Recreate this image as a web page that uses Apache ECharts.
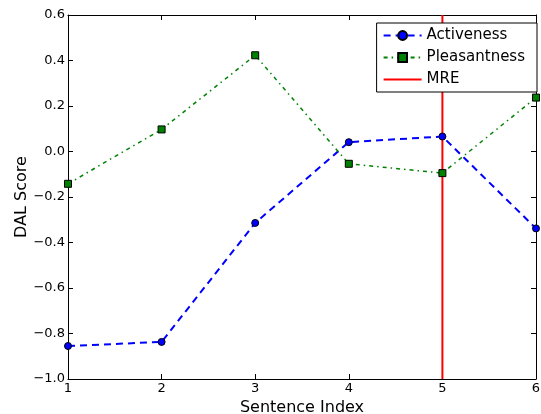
<!DOCTYPE html>
<html>
<head>
<meta charset="utf-8">
<script src="https://cdn.jsdelivr.net/npm/echarts@6/dist/echarts.min.js"></script>
<style>
  html, body { margin: 0; padding: 0; background: #fff; overflow: hidden; }
  #chart { width: 541px; height: 414px; }
</style>
</head>
<body>
<div id="chart"></div>
<script>
// sentence indices and DAL scores
const sentenceIdx = [1, 2, 3, 4, 5, 6];
const activeness = [-0.855, -0.837, -0.314, 0.041, 0.066, -0.338];
const pleasantness = [-0.142, 0.097, 0.423, -0.054, -0.095, 0.237];
const mreIndex = 5;
const yRange = [-1.0, 0.6];

const font = 'DejaVu Sans';

function pairs(xs, ys) {
  return xs.map((x, i) => [x, ys[i]]);
}

const chart = echarts.init(document.getElementById('chart'), null, { renderer: 'canvas' });

const tickStyle = { inside: true, length: 5, lineStyle: { color: '#000', width: 1 } };

const option = {
  backgroundColor: '#fff',
  animation: false,
  textStyle: { fontFamily: font },
  grid: { left: 68, right: 5, top: 15, bottom: 35, containLabel: false, outerBoundsMode: 'none' },
  legend: {
    right: 4, top: 23,
    orient: 'vertical',
    align: 'left',
    padding: [5, 12, 5, 6],
    itemGap: 7,
    itemWidth: 38, itemHeight: 11,
    borderColor: '#000', borderWidth: 1, borderRadius: 0,
    backgroundColor: '#fff',
    textStyle: { fontFamily: font, fontSize: 15, color: '#000' },
    data: ['Activeness', 'Pleasantness', { name: 'MRE', itemStyle: { opacity: 0 } }]
  },
  xAxis: [{
    type: 'value', min: 1, max: 6, interval: 1,
    name: 'Sentence Index', nameLocation: 'middle', nameGap: 21,
    nameTextStyle: { fontFamily: font, fontSize: 16, color: '#000' },
    axisLine: { onZero: false, lineStyle: { color: '#000', width: 1 } },
    axisTick: tickStyle,
    axisLabel: { color: '#000', fontSize: 13, margin: 3, fontFamily: font },
    splitLine: { show: false }
  }, {
    type: 'value', min: 1, max: 6, interval: 1, position: 'top',
    axisLine: { onZero: false, lineStyle: { color: '#000', width: 1 } },
    axisTick: tickStyle,
    axisLabel: { show: false },
    splitLine: { show: false }
  }],
  yAxis: [{
    type: 'value', min: yRange[0], max: yRange[1], interval: 0.2,
    name: 'DAL Score', nameLocation: 'middle', nameGap: 38, nameRotate: 90,
    nameMoveOverlap: false,
    nameTextStyle: { fontFamily: font, fontSize: 16, color: '#000' },
    axisLine: { onZero: false, lineStyle: { color: '#000', width: 1 } },
    axisTick: tickStyle,
    axisLabel: {
      color: '#000', fontSize: 13, margin: 3, fontFamily: font,
      formatter: v => v.toFixed(1).replace('-', '\u2212')
    },
    splitLine: { show: false }
  }, {
    type: 'value', min: yRange[0], max: yRange[1], interval: 0.2, position: 'right',
    axisLine: { onZero: false, lineStyle: { color: '#000', width: 1 } },
    axisTick: tickStyle,
    axisLabel: { show: false },
    splitLine: { show: false }
  }],
  series: [{
    name: 'Activeness',
    type: 'line',
    data: pairs(sentenceIdx, activeness),
    symbol: 'circle', symbolSize: 7,
    itemStyle: { color: '#0000ff', borderColor: '#000', borderWidth: 1 },
    lineStyle: { color: '#0000ff', width: 2, type: [7, 5] },
    z: 3
  }, {
    name: 'Pleasantness',
    type: 'line',
    data: pairs(sentenceIdx, pleasantness),
    symbol: 'rect', symbolSize: 7,
    itemStyle: { color: '#008000', borderColor: '#000', borderWidth: 1 },
    lineStyle: { color: '#008000', width: 1.5, type: [4, 4, 1.5, 4] },
    z: 3
  }, {
    name: 'MRE',
    type: 'line',
    data: pairs([mreIndex, mreIndex], yRange),
    symbol: 'none',
    itemStyle: { color: '#ff0000' },
    lineStyle: { color: '#ff0000', width: 2 },
    z: 2
  }]
};

chart.setOption(option);
</script>
</body>
</html>
